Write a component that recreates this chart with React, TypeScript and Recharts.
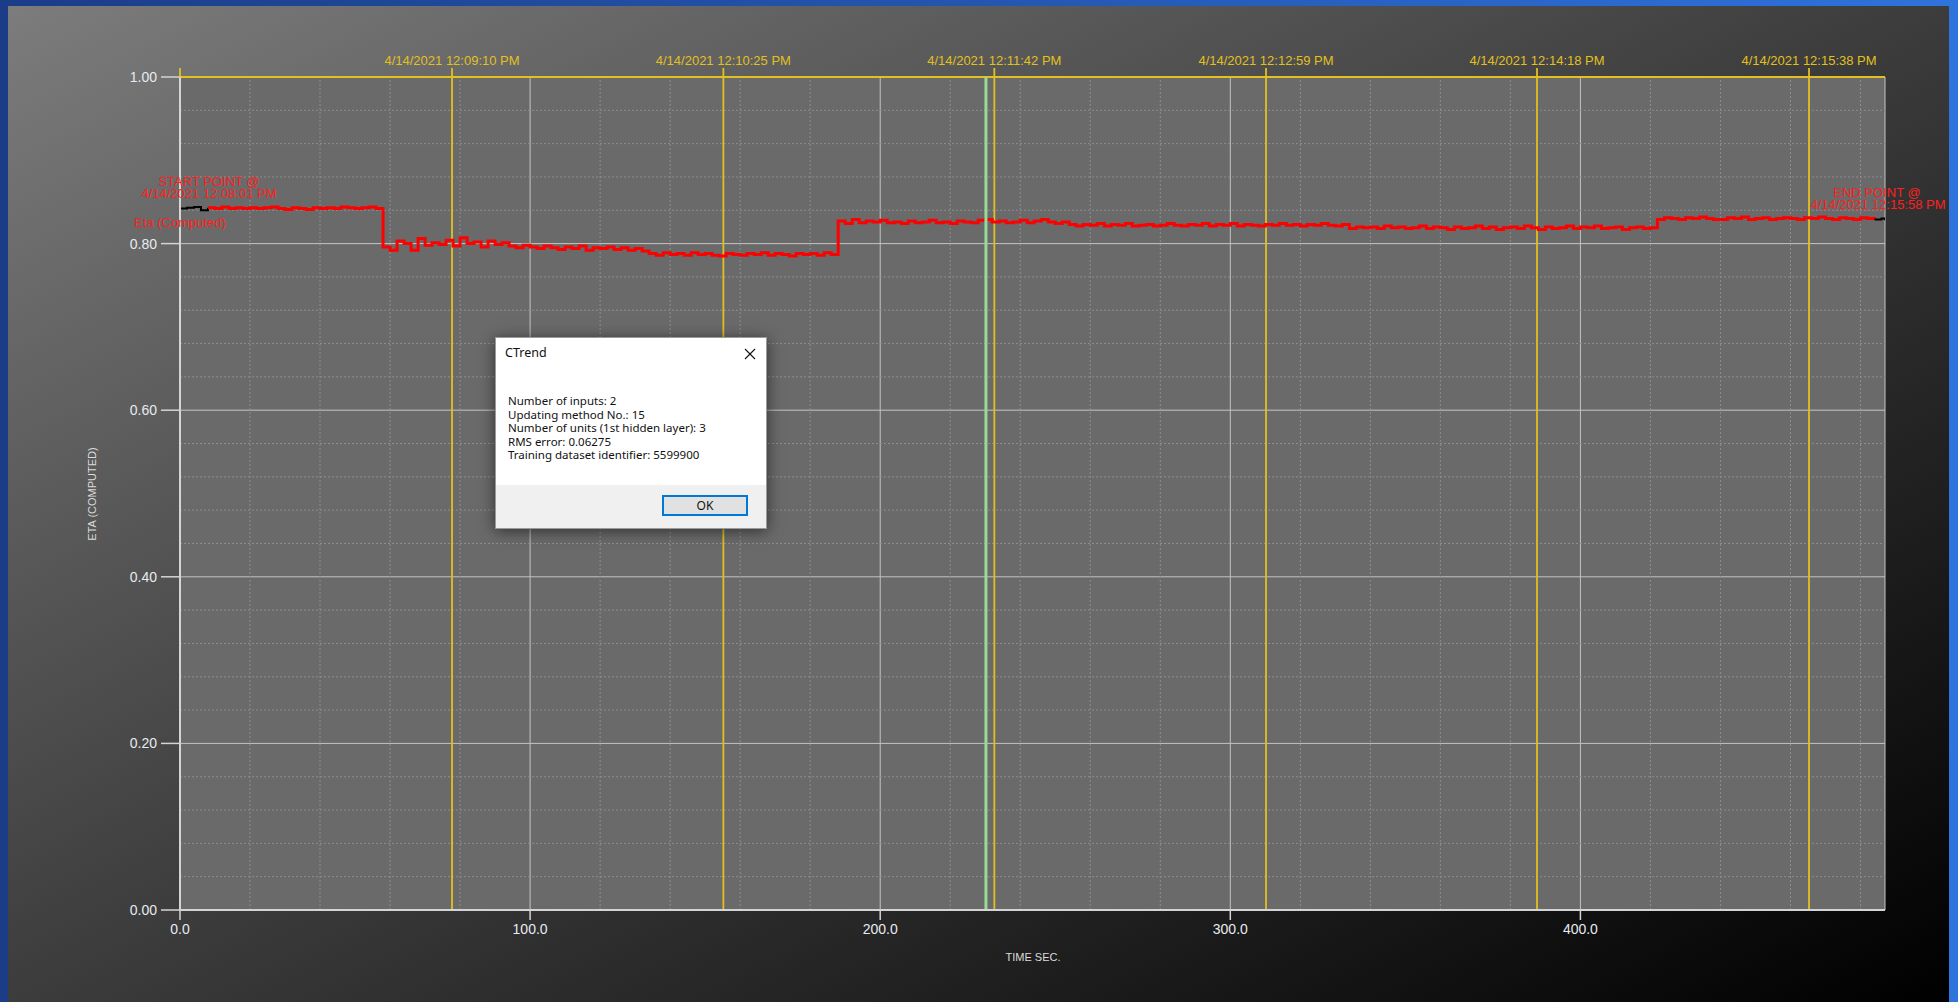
import React from "react";
import { LineChart, Line, XAxis, YAxis, CartesianGrid, ReferenceLine } from "recharts";

// Sampling grid of the trend (seconds between stored samples)
const SAMPLE_STEP = 2;
const HEAD_END = 8; // end of the warm-up segment (drawn black)
const TAIL_START = 484; // start of the closing segment (drawn black)

// Eta (Computed) samples, one row per 20 seconds
const ETA: number[] = [
  0.842, 0.843, 0.844, 0.840, 0.843, 0.842, 0.844, 0.842, 0.843, 0.842, // 0
  0.843, 0.842, 0.843, 0.844, 0.842, 0.841, 0.843, 0.842, 0.841, 0.843, // 20
  0.842, 0.843, 0.842, 0.844, 0.843, 0.842, 0.843, 0.844, 0.842, 0.796, // 40
  0.792, 0.803, 0.800, 0.792, 0.806, 0.798, 0.801, 0.799, 0.804, 0.797, // 60
  0.807, 0.800, 0.802, 0.796, 0.803, 0.799, 0.801, 0.797, 0.795, 0.798, // 80
  0.796, 0.794, 0.797, 0.795, 0.793, 0.796, 0.794, 0.797, 0.792, 0.795, // 100
  0.794, 0.796, 0.793, 0.795, 0.792, 0.794, 0.791, 0.788, 0.786, 0.789, // 120
  0.787, 0.788, 0.786, 0.789, 0.787, 0.788, 0.786, 0.785, 0.788, 0.787, // 140
  0.786, 0.788, 0.787, 0.789, 0.786, 0.788, 0.787, 0.785, 0.788, 0.787, // 160
  0.788, 0.786, 0.789, 0.787, 0.827, 0.824, 0.829, 0.825, 0.827, 0.826, // 180
  0.828, 0.825, 0.826, 0.824, 0.827, 0.825, 0.826, 0.828, 0.825, 0.826, // 200
  0.824, 0.827, 0.826, 0.825, 0.828, 0.829, 0.826, 0.827, 0.825, 0.826, // 220
  0.828, 0.825, 0.827, 0.829, 0.826, 0.824, 0.826, 0.823, 0.821, 0.823, // 240
  0.822, 0.824, 0.821, 0.823, 0.822, 0.824, 0.821, 0.822, 0.823, 0.821, // 260
  0.822, 0.824, 0.822, 0.821, 0.823, 0.822, 0.824, 0.821, 0.823, 0.822, // 280
  0.824, 0.821, 0.823, 0.822, 0.821, 0.823, 0.822, 0.824, 0.822, 0.823, // 300
  0.821, 0.823, 0.822, 0.824, 0.822, 0.821, 0.823, 0.818, 0.820, 0.819, // 320
  0.820, 0.818, 0.821, 0.819, 0.820, 0.818, 0.819, 0.821, 0.818, 0.820, // 340
  0.819, 0.817, 0.820, 0.818, 0.819, 0.821, 0.818, 0.820, 0.817, 0.819, // 360
  0.820, 0.818, 0.821, 0.819, 0.817, 0.820, 0.818, 0.819, 0.821, 0.818, // 380
  0.820, 0.819, 0.821, 0.818, 0.819, 0.820, 0.817, 0.819, 0.820, 0.818, // 400
  0.819, 0.829, 0.831, 0.830, 0.829, 0.831, 0.830, 0.832, 0.830, 0.829, // 420
  0.829, 0.831, 0.830, 0.832, 0.829, 0.830, 0.831, 0.829, 0.830, 0.831, // 440
  0.830, 0.829, 0.831, 0.830, 0.832, 0.830, 0.829, 0.831, 0.830, 0.829, // 460
  0.831, 0.830, 0.829, 0.830, // 480
];
const END_SAMPLE = { t: 487, eta: 0.828 };

const X_DOMAIN: [number, number] = [0, 487];
const X_TICKS = [0, 100, 200, 300, 400];
const Y_TICKS = [0, 0.2, 0.4, 0.6, 0.8, 1.0];
const MINOR_X = [20, 40, 60, 80, 120, 140, 160, 180, 220, 240, 260, 280, 320, 340, 360, 380, 420, 440, 460, 480];
const MINOR_Y = [0.04, 0.08, 0.12, 0.16, 0.24, 0.28, 0.32, 0.36, 0.44, 0.48, 0.52, 0.56, 0.64, 0.68, 0.72, 0.76, 0.84, 0.88, 0.92, 0.96];

// Time stamp markers along the run
const MARKER_TIMES = [77.7, 155.2, 232.6, 310.2, 387.6, 465.3];
const MARKER_LABELS = [
  "4/14/2021 12:09:10 PM",
  "4/14/2021 12:10:25 PM",
  "4/14/2021 12:11:42 PM",
  "4/14/2021 12:12:59 PM",
  "4/14/2021 12:14:18 PM",
  "4/14/2021 12:15:38 PM",
];
const CURSOR_TIME = 230.2;

const START_LABEL = ["START POINT @", "4/14/2021 12:08:01 PM"];
const END_LABEL = ["END POINT @", "4/14/2021 12:15:58 PM"];
const SERIES_NAME = "Eta (Computed)";

const DIALOG_TITLE = "CTrend";
const DIALOG_LINES = [
  "Number of inputs: 2",
  "Updating method No.: 15",
  "Number of units (1st hidden layer): 3",
  "RMS error: 0.06275",
  "Training dataset identifier: 5599900",
];

const GOLD = "#e2c020";
const AXIS = "#d4d4d4";
const FONT = "'Liberation Sans', Arial, sans-serif";

type Row = { t: number; head: number | null; body: number | null; tail: number | null };

const rows: Row[] = ETA.map((v, i) => {
  const t = i * SAMPLE_STEP;
  return {
    t,
    head: t <= HEAD_END ? v : null,
    body: t >= HEAD_END && t <= TAIL_START ? v : null,
    tail: t >= TAIL_START ? v : null,
  };
});
rows.push({ t: END_SAMPLE.t, head: null, body: null, tail: END_SAMPLE.eta });

const markerShape = (label?: string) => (props: any) => {
  const { x1, y1, x2, y2 } = props;
  const top = Math.min(y1, y2);
  const bottom = Math.max(y1, y2);
  return (
    <g>
      <line x1={x1} y1={top - 9} x2={x2} y2={bottom} stroke={GOLD} strokeWidth={1.8} />
      {label ? (
        <text x={x1} y={top - 12} textAnchor="middle" fill={GOLD} fontSize={13} fontFamily={FONT}>
          {label}
        </text>
      ) : null}
    </g>
  );
};

function Dialog() {
  return (
    <div
      style={{
        position: "absolute",
        left: 495,
        top: 337,
        width: 272,
        height: 192,
        background: "#ffffff",
        boxShadow: "0 2px 14px rgba(0,0,0,0.55)",
        border: "1px solid #9a9a9a",
        boxSizing: "border-box",
        fontFamily: "'Noto Sans', 'Open Sans', sans-serif",
        color: "#111",
      }}
    >
      <div style={{ position: "absolute", left: 9, top: 7, fontSize: 12.5, lineHeight: "16px" }}>{DIALOG_TITLE}</div>
      <svg style={{ position: "absolute", left: 248, top: 10 }} width={12} height={12}>
        <line x1={1} y1={1} x2={11} y2={11} stroke="#111" strokeWidth={1.1} />
        <line x1={11} y1={1} x2={1} y2={11} stroke="#111" strokeWidth={1.1} />
      </svg>
      <div style={{ position: "absolute", left: 12, top: 56, fontSize: 11.5, lineHeight: "13.6px", whiteSpace: "pre" }}>
        {DIALOG_LINES.map((l) => (
          <div key={l}>{l}</div>
        ))}
      </div>
      <div style={{ position: "absolute", left: 0, right: 0, bottom: 0, height: 43, background: "#f0f0f0" }}>
        <div
          style={{
            position: "absolute",
            left: 166,
            top: 10,
            width: 86,
            height: 21,
            boxSizing: "border-box",
            border: "2px solid #0078d7",
            background: "#e1e1e1",
            fontSize: 12,
            lineHeight: "17px",
            textAlign: "center",
          }}
        >
          OK
        </div>
      </div>
    </div>
  );
}

export default function App() {
  return (
    <div
      style={{
        position: "fixed",
        left: 0,
        top: 0,
        width: 1958,
        height: 1002,
        overflow: "hidden",
        background: "linear-gradient(90deg, #1b3d88 0%, #2456b0 50%, #2f73dc 100%)",
      }}
    >
      <div
        style={{
          position: "absolute",
          left: 8,
          top: 6,
          width: 1941,
          height: 996,
          background: "linear-gradient(to bottom right, #7c7c7c 0%, #3c3c3c 50%, #000000 100%)",
        }}
      />
      <div style={{ position: "absolute", left: 0, top: 0 }}>
        <LineChart width={1958} height={1002} data={rows} margin={{ top: 77, right: 73, bottom: 62, left: 80 }}>
          <CartesianGrid fill="#6a6a6a" stroke="#c4c4c4" strokeWidth={1} />
          {MINOR_X.map((v) => (
            <ReferenceLine key={`mx${v}`} x={v} stroke="#8e8e8e" strokeDasharray="2 2" strokeWidth={1} />
          ))}
          {MINOR_Y.map((v) => (
            <ReferenceLine key={`my${v}`} y={v} stroke="#8e8e8e" strokeDasharray="2 2" strokeWidth={1} />
          ))}
          <XAxis
            type="number"
            dataKey="t"
            domain={X_DOMAIN}
            ticks={X_TICKS}
            allowDataOverflow
            tickFormatter={(v: number) => v.toFixed(1)}
            height={30}
            tickSize={10}
            tickMargin={4}
            axisLine={{ stroke: AXIS, strokeWidth: 2 }}
            tickLine={{ stroke: AXIS, strokeWidth: 1.5 }}
            tick={{ fill: "#e6ebf0", fontSize: 14, fontFamily: FONT }}
          />
          <YAxis
            type="number"
            domain={[0, 1]}
            ticks={Y_TICKS}
            allowDataOverflow
            tickFormatter={(v: number) => v.toFixed(2)}
            width={100}
            tickSize={19}
            tickMargin={4}
            axisLine={{ stroke: AXIS, strokeWidth: 2 }}
            tickLine={{ stroke: AXIS, strokeWidth: 1.5 }}
            tick={{ fill: "#e6ebf0", fontSize: 14, fontFamily: FONT }}
          />
          <ReferenceLine y={1} stroke={GOLD} strokeWidth={1.8} />
          <ReferenceLine x={0} shape={markerShape()} />
          {MARKER_TIMES.map((t, i) => (
            <ReferenceLine key={`mk${t}`} x={t} shape={markerShape(MARKER_LABELS[i])} />
          ))}
          <Line
            dataKey="head"
            type="stepAfter"
            stroke="#000000"
            strokeWidth={2}
            dot={false}
            isAnimationActive={false}
            connectNulls={false}
          />
          <Line
            dataKey="body"
            type="stepAfter"
            stroke="#ff0000"
            strokeWidth={3}
            dot={false}
            isAnimationActive={false}
            connectNulls={false}
          />
          <Line
            dataKey="tail"
            type="stepAfter"
            stroke="#000000"
            strokeWidth={2}
            dot={false}
            isAnimationActive={false}
            connectNulls={false}
          />
          <ReferenceLine x={CURSOR_TIME} stroke="#96dc96" strokeWidth={3} />
        </LineChart>
      </div>
      <svg style={{ position: "absolute", left: 0, top: 0 }} width={1958} height={1002}>
        <g fontFamily={FONT} fontSize={13} fill="#ff1f1f" textAnchor="middle">
          <text x={209} y={186}>{START_LABEL[0]}</text>
          <text x={209} y={198}>{START_LABEL[1]}</text>
          <text x={180} y={227}>{SERIES_NAME}</text>
          <text x={1877} y={197}>{END_LABEL[0]}</text>
          <text x={1878} y={209}>{END_LABEL[1]}</text>
        </g>
        <text x={1033} y={961} textAnchor="middle" fontFamily={FONT} fontSize={11} fill="#dcdcdc">
          TIME SEC.
        </text>
        <text
          x={0}
          y={0}
          transform="translate(96,494) rotate(-90)"
          textAnchor="middle"
          fontFamily={FONT}
          fontSize={11}
          fill="#dcdcdc"
        >
          ETA (COMPUTED)
        </text>
      </svg>
      <Dialog />
    </div>
  );
}
